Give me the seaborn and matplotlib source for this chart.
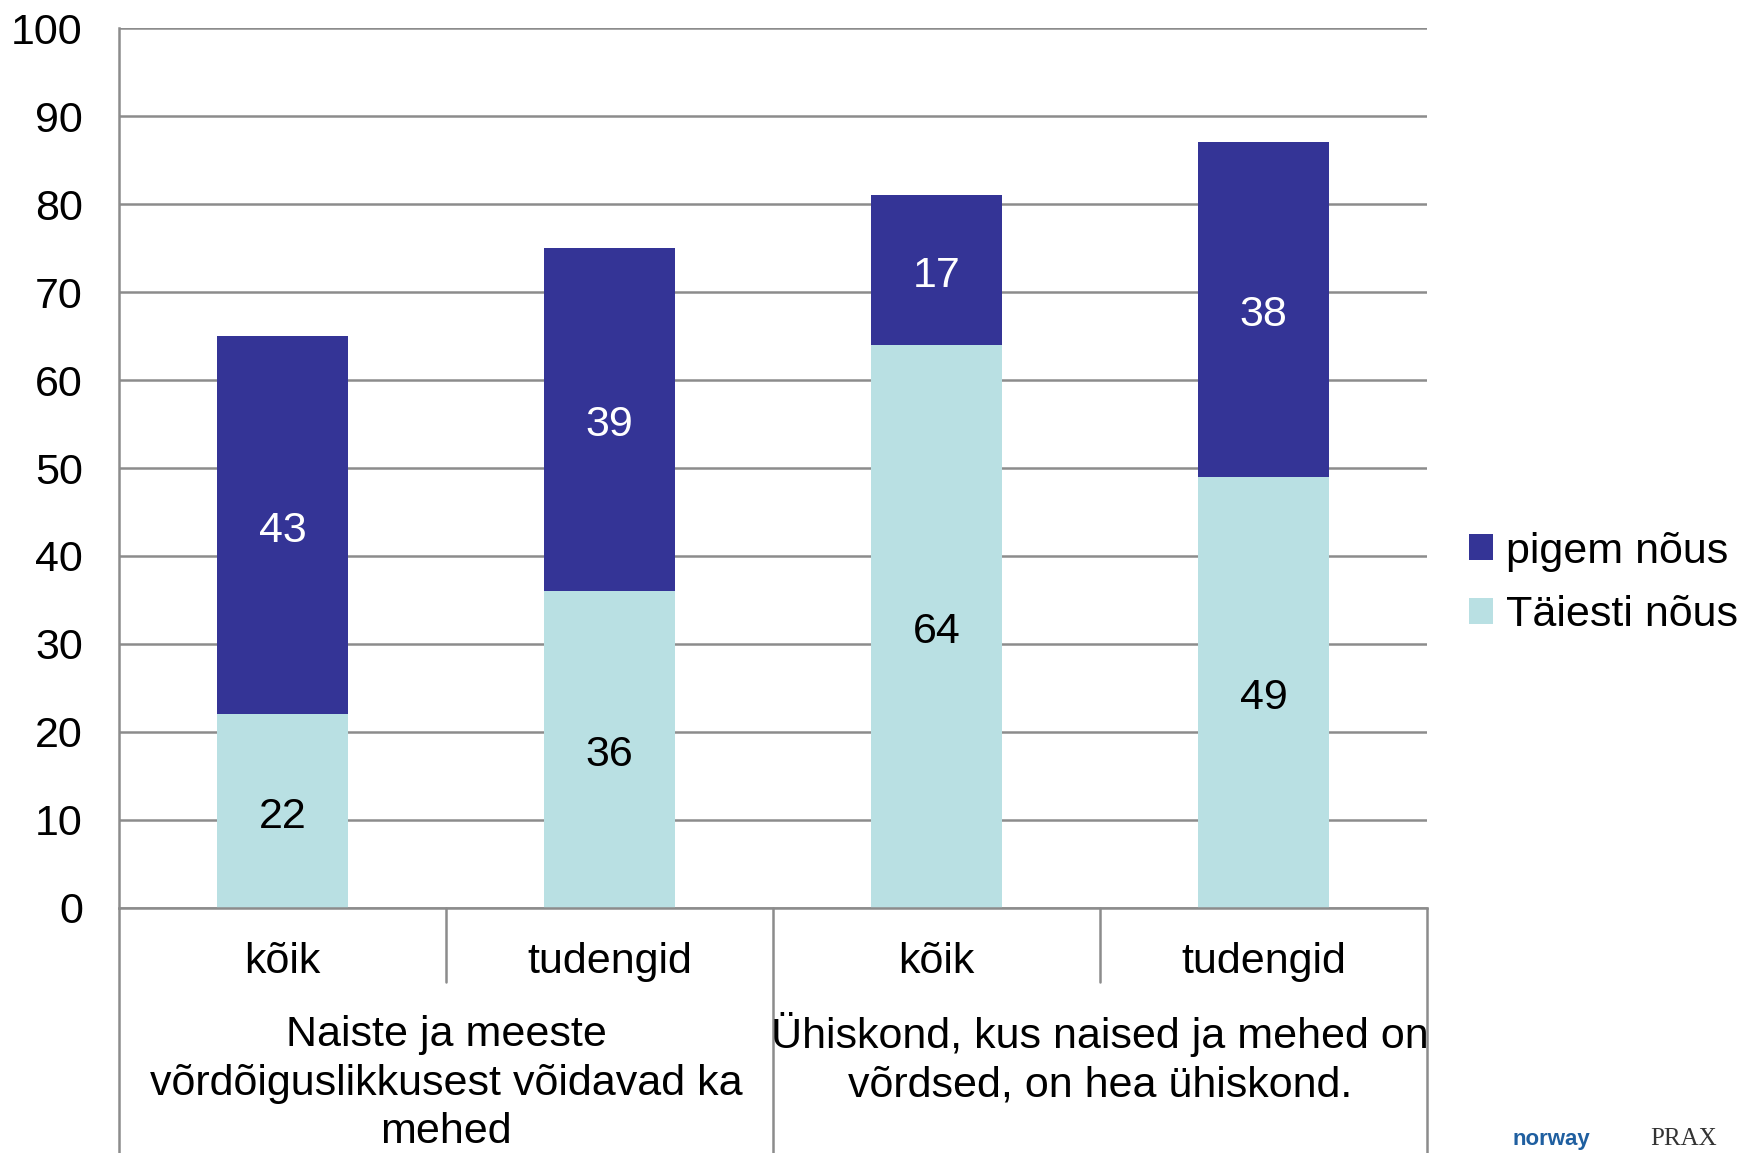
import matplotlib
matplotlib.use("Agg")
import matplotlib.pyplot as plt
import matplotlib.transforms as mtransforms
import seaborn as sns
import pandas as pd

# === ANDMED ===
bar_ids = ["g1_koik", "g1_tudengid", "g2_koik", "g2_tudengid"]
sub_labels = ["kõik", "tudengid", "kõik", "tudengid"]
group_labels = ["Naiste ja meeste\nvõrdõiguslikkusest võidavad ka\nmehed",
                "Ühiskond, kus naised ja mehed on\nvõrdsed, on hea ühiskond."]
taiesti = [22, 36, 64, 49]
pigem = [43, 39, 17, 38]

COL_DARK = "#343496"
COL_LIGHT = "#B9E0E3"
GRID = "#8C8C8C"
FS = 31

sns.set_theme(style="white")
plt.rcParams['font.family'] = ['Liberation Sans', 'DejaVu Sans']
plt.rcParams['text.color'] = 'black'
plt.rcParams['ytick.color'] = 'black'

df = pd.DataFrame({"id": bar_ids, "taiesti": taiesti, "pigem": pigem})

fig = plt.figure(figsize=(17.39, 11.53), dpi=100)
ax = fig.add_axes([0.0684, 0.2125, 0.7522, 0.7632])

sns.barplot(data=df, x="id", y="taiesti", color=COL_LIGHT, width=0.4,
            saturation=1, linewidth=0, ax=ax, label="Täiesti nõus")
sns.barplot(data=df, x="id", y="pigem", bottom=df["taiesti"], color=COL_DARK,
            width=0.4, saturation=1, linewidth=0, ax=ax, label="pigem nõus")
if ax.get_legend() is not None:
    ax.get_legend().remove()

lab_light = ax.bar_label(ax.containers[0], labels=[str(v) for v in taiesti],
                         label_type="center", fontsize=FS, color="black")
lab_dark = ax.bar_label(ax.containers[1], labels=[str(v) for v in pigem],
                        label_type="center", fontsize=FS, color="white")
for t in lab_light + lab_dark:
    t.xyann = (0, -4)  # veidi allapoole nagu originaalis

ax.set_ylim(0, 100)
ax.set_xlim(-0.5, 3.5)
ax.set_yticks(range(0, 101, 10))
ax.tick_params(axis="y", labelsize=FS, length=8, width=1.5, color=GRID,
               labelcolor="black", pad=18)
ax.set_xticks([])
ax.set_xlabel("")
ax.set_ylabel("")
ax.yaxis.grid(True, color=GRID, linewidth=1.8)
ax.set_axisbelow(True)
for s in ["top", "right"]:
    ax.spines[s].set_visible(False)
for s in ["left", "bottom"]:
    ax.spines[s].set_color(GRID)
    ax.spines[s].set_linewidth(1.8)

# kaheastmeline x-telg
tr = mtransforms.blended_transform_factory(ax.transData, fig.transFigure)
ax0 = 0.2125
for xs, y_end in [(-0.5, 0.0), (0.5, 0.148), (1.5, 0.0), (2.5, 0.148), (3.5, 0.0)]:
    ax.plot([xs, xs], [ax0, y_end], transform=tr, color=GRID, lw=1.8, clip_on=False)

for i, lab in enumerate(sub_labels):
    fig.text(0, 0, lab, transform=tr, fontsize=FS, ha="center", va="center") \
        .set_position((i, 0.166))
for i, (lab, yc) in enumerate(zip(group_labels, [0.060, 0.082])):
    fig.text(0, 0, lab, transform=tr, fontsize=FS, ha="center", va="center",
             linespacing=1.27).set_position((0.5 + 2 * i, yc))

handles, labels = ax.get_legend_handles_labels()
leg = fig.legend(handles[::-1], labels[::-1], loc="center left",
                 bbox_to_anchor=(0.835, 0.494), frameon=False, fontsize=FS,
                 handlelength=0.55, handleheight=0.55, handletextpad=0.3,
                 labelspacing=0.55, borderaxespad=0)

# logod (tekstina)
fig.text(0.892, 0.003, "norway", fontsize=16, color="#1F5FA0", ha="center",
         va="bottom", fontweight="bold")
fig.text(0.968, 0.003, "PRAX", fontsize=18, color="#333333", ha="center",
         va="bottom", family=["Liberation Serif", "DejaVu Serif"])

fig.savefig("out.png", dpi=100)
